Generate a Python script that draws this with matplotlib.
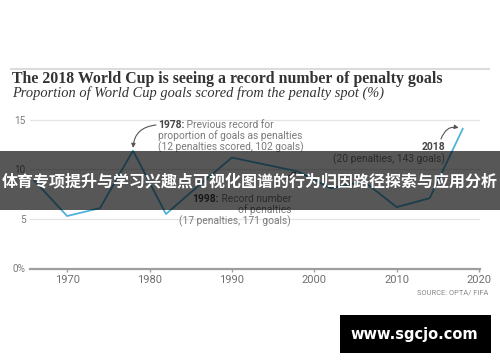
import matplotlib
matplotlib.use('Agg')
import matplotlib.pyplot as plt
from matplotlib.patches import Rectangle
from matplotlib.lines import Line2D
from matplotlib import font_manager as fm

# ---------------- data ----------------
years = [1966, 1970, 1974, 1978, 1982, 1986, 1990, 1994, 1998, 2002, 2006, 2010, 2014, 2018]
penalty_pct = [8.9, 5.3, 6.1, 11.9, 5.5, 8.4, 11.2, 10.5, 9.8, 8.1, 8.8, 6.2, 7.1, 14.1]
x_ticks = [1970, 1980, 1990, 2000, 2010, 2020]
y_ticks = [0, 5, 10, 15]
y_tick_labels = ['0%', '5', '10', '15']

title = "The 2018 World Cup is seeing a record number of penalty goals"
subtitle = "Proportion of World Cup goals scored from the penalty spot (%)"
source = "SOURCE: OPTA/ FIFA"
banner = "体育专项提升与学习兴趣点可视化图谱的行为归因路径探索与应用分析"
watermark = "www.sgcjo.com"

ann_1978 = [("1978:", " Previous record for"), (None, "proportion of goals as penalties"),
            (None, "(12 penalties scored, 102 goals)")]
ann_1998 = [("1998:", " Record number"), (None, "of penalties"), (None, "(17 penalties, 171 goals)")]
ann_2018 = [("2018", None), (None, "(20 penalties, 143 goals)")]

# ---------------- helpers ----------------
W, H = 500, 362


def fx(x):
    return x / W


def fy(y):
    return 1 - y / H


def pick(cands):
    for c in cands:
        try:
            fm.findfont(fm.FontProperties(family=c), fallback_to_default=False)
            return c
        except Exception:
            pass
    return 'DejaVu Sans'


SANS = pick(['Roboto', 'DejaVu Sans'])
SERIF = pick(['Liberation Serif', 'DejaVu Serif'])

DARK = '#454545'
GRAY = '#7a7a7a'
LINE = '#4fb2da'

fig = plt.figure(figsize=(W / 100, H / 100), dpi=100)
fig.patch.set_facecolor('white')

# ---------------- axes ----------------
ax = fig.add_axes([fx(30), fy(268.5), fx(480) - fx(30), (268.5 - 117) / H])
ax.set_facecolor('none')
ax.set_xlim(1965.5, 2020.1)
ax.set_ylim(0, 15.3)
for s in ['top', 'right', 'left']:
    ax.spines[s].set_visible(False)
ax.spines['bottom'].set_color('#9e9e9e')
ax.spines['bottom'].set_linewidth(1.6)
ax.set_xticks(x_ticks)
ax.set_xticklabels([str(v) for v in x_ticks], family=SANS)
ax.set_yticks(y_ticks)
ax.set_yticklabels(y_tick_labels, family=SANS)
ax.tick_params(axis='x', length=2.3, width=1, color='#9e9e9e', pad=2.3, labelsize=8, labelcolor='#6f6f6f')
ax.tick_params(axis='y', length=0, pad=3.0, labelsize=7.2, labelcolor='#7a7a7a')
ax.yaxis.grid(True, color='#e4e4e4', lw=0.9)
ax.set_axisbelow(True)

ax.plot(years, penalty_pct, color=LINE, lw=1.3, zorder=3)

# arrows
arrow_kw = dict(arrowstyle='-|>', color='#555555', lw=0.8, mutation_scale=6, shrinkA=0)
ax.annotate('', xy=(1978, penalty_pct[3]), xycoords='data', xytext=(156, H - 125),
            textcoords='figure pixels',
            arrowprops=dict(connectionstyle='arc3,rad=0.45', shrinkB=2, **arrow_kw))
ax.annotate('', xy=(1998, penalty_pct[8]), xycoords='data', xytext=(285, H - 178),
            textcoords='figure pixels',
            arrowprops=dict(connectionstyle='arc3,rad=0', shrinkB=1, **arrow_kw))
ax.annotate('', xy=(2018, penalty_pct[13]), xycoords='data', xytext=(441, H - 139),
            textcoords='figure pixels',
            arrowprops=dict(connectionstyle='arc3,rad=-0.5', shrinkB=3, **arrow_kw))

renderer = fig.canvas.get_renderer()
ASIZE = 7.4


def rich(x, yb, bold, rest, ha='left'):
    tb = tr = None
    wb = wr = 0
    if bold:
        tb = fig.text(0, fy(yb), bold, family=SANS, size=ASIZE, weight='bold', color=DARK, va='baseline')
        wb = tb.get_window_extent(renderer).width
    if rest:
        tr = fig.text(0, fy(yb), rest, family=SANS, size=ASIZE, color=GRAY, va='baseline')
        wr = tr.get_window_extent(renderer).width
    total = wb + wr
    x0 = x if ha == 'left' else x - total
    if tb is not None:
        tb.set_x(fx(x0))
    if tr is not None:
        tr.set_x(fx(x0 + wb))


bases = [127.7, 139.4, 150.8]
for (b, r), yb in zip(ann_1978, bases):
    rich(158, yb, b, r)
bases = [201.7, 213.2, 224.5]
for (b, r), yb in zip(ann_1998, bases):
    rich(291, yb, b, r, ha='right')
bases = [149.8, 162.6]
for (b, r), yb in zip(ann_2018, bases):
    rich(445, yb, b, r, ha='right')

# ---------------- titles ----------------
fig.add_artist(Line2D([fx(11), fx(489)], [fy(68.5), fy(68.5)], color='#dcdcdc', lw=1.5))
fig.text(fx(12), fy(83.3), title, family=SERIF, weight='bold', size=11.4, color='#333333', va='baseline')
fig.text(fx(12), fy(97.2), subtitle, family=SERIF, style='italic', size=10.4, color='#333333', va='baseline')
fig.text(fx(488), fy(294.5), source, family=SANS, size=5.4, color='#888888', ha='right', va='baseline')

# ---------------- overlays ----------------
fig.add_artist(Rectangle((0, fy(210)), 1, (210 - 150.5) / H, transform=fig.transFigure,
                         facecolor='black', alpha=0.66, edgecolor='none', zorder=10))
fig.text(0.5, fy(181), banner, ha='center', va='center', color='white', size=11.5, weight='bold',
         family=['Noto Sans CJK SC', 'DejaVu Sans'], zorder=11)

fig.add_artist(Rectangle((fx(340), fy(353)), (491 - 340) / W, (353 - 315) / H, transform=fig.transFigure,
                         facecolor='black', edgecolor='none', zorder=12))
fig.text(fx(414.5), fy(334.5), watermark, ha='center', va='center', color='white', size=10.5,
         weight='bold', family='DejaVu Sans', zorder=13)

fig.savefig('out.png', dpi=100)
